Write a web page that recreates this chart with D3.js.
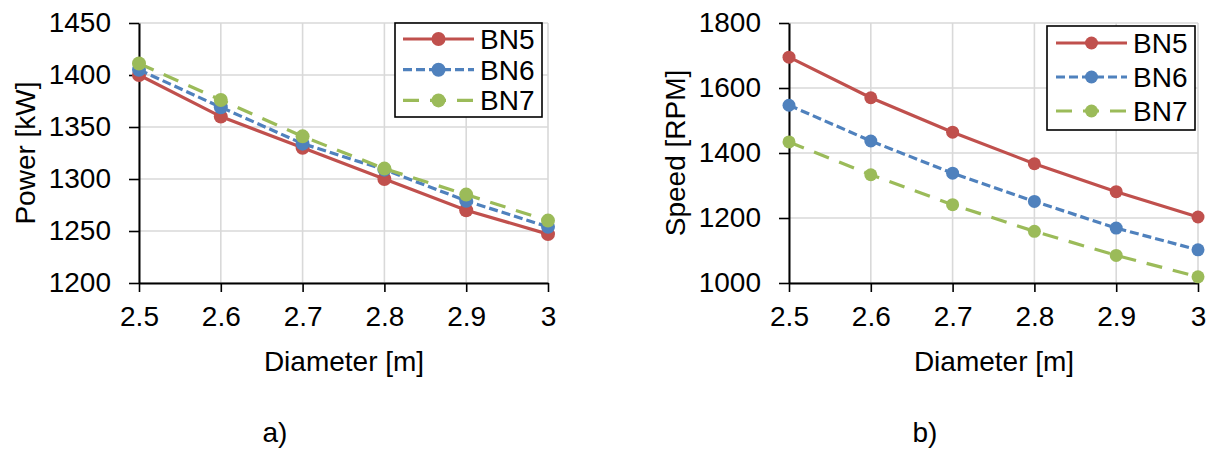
<!DOCTYPE html>
<meta charset="utf-8">
<script src="https://d3js.org/d3.v7.min.js"></script>
<style>
  body { margin: 0; background: #fff; }
  svg { display: block; font-family: "Liberation Sans", Arial, sans-serif; }
  .grid line { stroke: #d9d9d9; stroke-width: 1.6; }
</style>
<div id="chart"></div>
<script>
// ---- data ----
var diameters = [2.5, 2.6, 2.7, 2.8, 2.9, 3];
var xTickLabels = ["2.5", "2.6", "2.7", "2.8", "2.9", "3"];
var seriesNames = ["BN5", "BN6", "BN7"];

var powerBN5 = [1400, 1360, 1330, 1300, 1270, 1247];
var powerBN6 = [1405, 1369, 1334, 1309, 1279, 1254];
var powerBN7 = [1411, 1376, 1341, 1310, 1285, 1260];
var powerTicks = [1200, 1250, 1300, 1350, 1400, 1450];

var speedBN5 = [1695, 1570, 1464, 1367, 1281, 1203];
var speedBN6 = [1547, 1437, 1338, 1251, 1169, 1102];
var speedBN7 = [1434, 1333, 1241, 1159, 1085, 1019];
var speedTicks = [1000, 1200, 1400, 1600, 1800];

var colors = ["#c0504d", "#4f81bd", "#9bbb59"];
var dashes = [null, "9,4", "16,11"];
var fs = 28;

var svg = d3.select("#chart").append("svg")
  .attr("width", 1211)
  .attr("height", 450);

function panel(p) {
  var x = d3.scaleLinear().domain([2.5, 3]).range([p.left, p.left + 409]);
  var y = d3.scaleLinear().domain(d3.extent(p.ticks)).range([283, 23]);
  var g = svg.append("g");

  // grid
  g.append("g").attr("class", "grid")
    .selectAll("line.h").data(p.ticks).enter().append("line")
    .attr("x1", x(2.5)).attr("x2", x(3))
    .attr("y1", function(d){ return y(d); }).attr("y2", function(d){ return y(d); });
  g.append("g").attr("class", "grid")
    .selectAll("line.v").data(diameters).enter().append("line")
    .attr("x1", function(d){ return x(d); }).attr("x2", function(d){ return x(d); })
    .attr("y1", 23).attr("y2", 283);

  // axes
  var xa = g.append("g").attr("transform", "translate(0,283)")
    .call(d3.axisBottom(x).tickValues(diameters)
      .tickFormat(function(d, i){ return xTickLabels[i]; })
      .tickSize(9).tickPadding(14).tickSizeOuter(0));
  var ya = g.append("g").attr("transform", "translate(" + p.left + ",0)")
    .call(d3.axisLeft(y).tickValues(p.ticks).tickFormat(d3.format("d"))
      .tickSize(10).tickPadding(18).tickSizeOuter(0));
  [xa, ya].forEach(function(a) {
    a.select(".domain").attr("stroke", "#000").attr("stroke-width", 2);
    a.selectAll(".tick line").attr("stroke", "#000").attr("stroke-width", 1.6);
    a.selectAll("text").attr("font-size", fs).attr("fill", "#000")
      .style("font-family", "'Liberation Sans', Arial, sans-serif");
  });

  // series
  var line = d3.line()
    .x(function(d, i){ return x(diameters[i]); })
    .y(function(d){ return y(d); });
  p.series.forEach(function(vals, k) {
    g.append("path").datum(vals)
      .attr("d", line)
      .attr("fill", "none")
      .attr("stroke", colors[k])
      .attr("stroke-width", 3.2)
      .attr("stroke-dasharray", dashes[k]);
    g.selectAll(null).data(vals).enter().append("circle")
      .attr("cx", function(d, i){ return x(diameters[i]); })
      .attr("cy", function(d){ return y(d); })
      .attr("r", p.r)
      .attr("fill", colors[k]);
  });

  // axis titles
  g.append("text")
    .attr("transform", "translate(" + (p.left - 104) + ",153)rotate(-90)")
    .attr("text-anchor", "middle")
    .attr("font-size", fs)
    .text(p.yTitle);
  g.append("text")
    .attr("x", p.left + 205).attr("y", 371)
    .attr("text-anchor", "middle")
    .attr("font-size", fs)
    .text("Diameter [m]");
  g.append("text")
    .attr("x", p.left + 136).attr("y", 442)
    .attr("text-anchor", "middle")
    .attr("font-size", fs)
    .text(p.caption);

  // legend
  var lg = g.append("g").attr("transform", "translate(" + p.lx + "," + p.ly + ")");
  lg.append("rect")
    .attr("width", p.lw).attr("height", p.lh)
    .attr("fill", "#fff").attr("stroke", "#000").attr("stroke-width", 1.6);
  seriesNames.forEach(function(name, k) {
    var cy = p.row0 + k * p.rowGap;
    lg.append("line")
      .attr("x1", p.lineX0).attr("x2", p.lineX0 + 71)
      .attr("y1", cy).attr("y2", cy)
      .attr("stroke", colors[k]).attr("stroke-width", 3.2)
      .attr("stroke-dasharray", dashes[k]);
    lg.append("circle")
      .attr("cx", p.lineX0 + 35.5).attr("cy", cy).attr("r", p.r)
      .attr("fill", colors[k]);
    lg.append("text")
      .attr("x", p.lineX0 + 77).attr("y", cy).attr("dy", "0.36em")
      .attr("font-size", fs)
      .text(name);
  });
}

panel({
  left: 139, ticks: powerTicks, series: [powerBN5, powerBN6, powerBN7],
  yTitle: "Power [kW]", caption: "a)", r: 7,
  lx: 395, ly: 23, lw: 147, lh: 94, lineX0: 8, row0: 16, rowGap: 30.7
});
panel({
  left: 789, ticks: speedTicks, series: [speedBN5, speedBN6, speedBN7],
  yTitle: "Speed [RPM]", caption: "b)", r: 6.5,
  lx: 1047, ly: 26, lw: 148, lh: 104, lineX0: 9, row0: 17, rowGap: 34
});
</script>
